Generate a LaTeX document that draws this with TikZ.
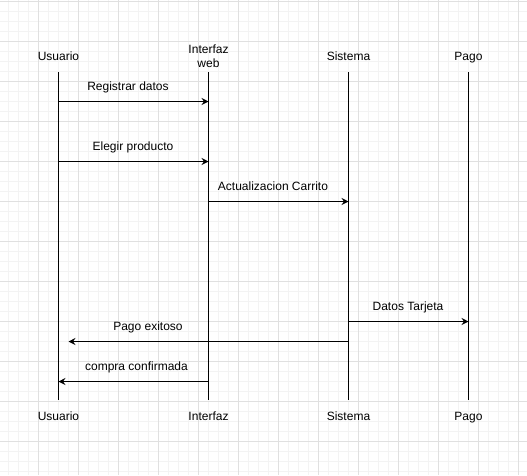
\documentclass[tikz,border=0pt]{standalone}
\usepackage{fontspec}
\setmainfont{Liberation Sans}
\usetikzlibrary{arrows.meta}
\definecolor{gminor}{HTML}{F3F3F3}
\definecolor{gmajor}{HTML}{E0E0E0}
\begin{document}
\begin{tikzpicture}[x=1pt,y=-1pt,
  lbl/.style={font=\fontsize{12}{14}\selectfont, inner sep=0pt, anchor=base},
  life/.style={draw=black, line width=1pt},
  msg/.style={draw=black, line width=1pt, -{Stealth[length=7pt,width=7pt,inset=2.5pt]}}]
\useasboundingbox (0,0) rectangle (527,475);
\fill[white] (0,0) rectangle (527,475);
% grid
\foreach \gx in {8.5,18.5,...,527} \draw[gminor, line width=1pt] (\gx,0) -- (\gx,475);
\foreach \gy in {1.5,11.5,...,475} \draw[gminor, line width=1pt] (0,\gy) -- (527,\gy);
\foreach \gx in {38.5,78.5,...,527} \draw[gmajor, line width=1pt] (\gx,0) -- (\gx,475);
\foreach \gy in {1.5,41.5,...,475} \draw[gmajor, line width=1pt] (0,\gy) -- (527,\gy);
% lifeline headers
\node[lbl] (uT) at (58.5,60) {Usuario};
\node[lbl, align=center] (iT) at (208.5,67.5) {Interfaz\\web};
\node[lbl] (sT) at (348.5,60) {Sistema};
\node[lbl] (pT) at (468.5,60) {Pago};
% footers
\node[lbl] (uB) at (58.5,420) {Usuario};
\node[lbl] (iB) at (208.5,420) {Interfaz};
\node[lbl] (sB) at (348.5,420) {Sistema};
\node[lbl] (pB) at (468.5,420) {Pago};
% lifeline ends
\coordinate (u0) at (58.5,72); \coordinate (u1) at (58.5,400);
\coordinate (i0) at (208.5,72); \coordinate (i1) at (208.5,400);
\coordinate (s0) at (348.5,72); \coordinate (s1) at (348.5,400);
\coordinate (p0) at (468.5,72); \coordinate (p1) at (468.5,400);
\path[life] (u0) -- (u1);
\path[life] (i0) -- (i1);
\path[life] (s0) -- (s1);
\path[life] (p0) -- (p1);
% message points
\coordinate (m1a) at (58.5,101.5); \coordinate (m1b) at (208.5,101.5);
\coordinate (m2a) at (58.5,161.5); \coordinate (m2b) at (208.5,161.5);
\coordinate (m3a) at (208.5,201.5); \coordinate (m3b) at (348.5,201.5);
\coordinate (m4a) at (348.5,321.5); \coordinate (m4b) at (468.5,321.5);
\coordinate (m5a) at (348.5,341.5); \coordinate (m5b) at (68.5,341.5);
\coordinate (m6a) at (208.5,381.5); \coordinate (m6b) at (58.5,381.5);
\path[msg] (m1a) -- (m1b);
\path[msg] (m2a) -- (m2b);
\path[msg] (m3a) -- (m3b);
\path[msg] (m4a) -- (m4b);
\path[msg] (m5a) -- (m5b);
\path[msg] (m6a) -- (m6b);
% message labels
\node[lbl] (l1) at (128,90) {Registrar datos};
\node[lbl] (l2) at (133,150) {Elegir producto};
\node[lbl] (l3) at (273,190) {Actualizacion Carrito};
\node[lbl] (l4) at (408,310) {Datos Tarjeta};
\node[lbl] (l5) at (148,330) {Pago exitoso};
\node[lbl] (l6) at (136.5,370) {compra confirmada};
\end{tikzpicture}
\end{document}
